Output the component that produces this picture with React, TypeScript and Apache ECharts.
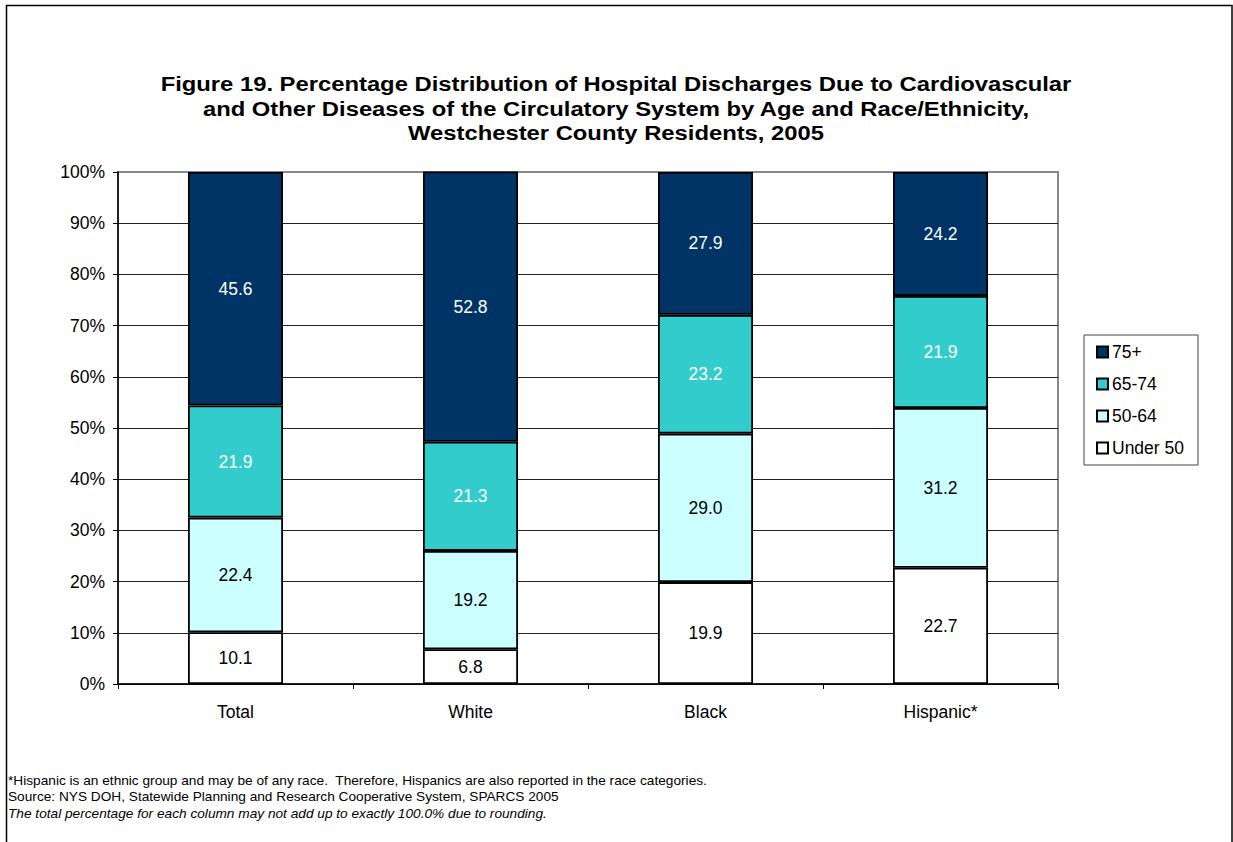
import React, { useEffect, useRef } from "react";
import * as echarts from "echarts";

const categories = ["Total", "White", "Black", "Hispanic*"];
const seriesNames = ["Under 50", "50-64", "65-74", "75+"];
const under50 = [10.1, 6.8, 19.9, 22.7];
const age50to64 = [22.4, 19.2, 29.0, 31.2];
const age65to74 = [21.9, 21.3, 23.2, 21.9];
const age75plus = [45.6, 52.8, 27.9, 24.2];
const seriesColors = ["#FFFFFF", "#CCFFFF", "#33CCCC", "#003366"];
const labelColors = ["#000000", "#000000", "#FFFFFF", "#FFFFFF"];
const legendOrder = ["75+", "65-74", "50-64", "Under 50"];
const titleText =
  "Figure 19. Percentage Distribution of Hospital Discharges Due to Cardiovascular\nand Other Diseases of the Circulatory System by Age and Race/Ethnicity,\nWestchester County Residents, 2005";
const footnotes = [
  "*Hispanic is an ethnic group and may be of any race.  Therefore, Hispanics are also reported in the race categories.",
  "Source: NYS DOH, Statewide Planning and Research Cooperative System, SPARCS 2005",
  "The total percentage for each column may not add up to exactly 100.0% due to rounding.",
];

const FONT = "'Liberation Sans', Arial, sans-serif";

export default function App() {
  const ref = useRef<HTMLDivElement>(null);
  useEffect(() => {
    if (!ref.current) return;
    const chart = echarts.init(ref.current, null, { renderer: "svg" });
    const dataSets = [under50, age50to64, age65to74, age75plus];
    const gridColors = [
      "#222", "#222", "#222", "#222", "#222", "#222", "#222", "#222", "#222", "#222", "#888",
    ];
    chart.setOption({
      animation: false,
      backgroundColor: "#ffffff",
      textStyle: { fontFamily: FONT },
      legend: {
        orient: "vertical",
        left: 1084,
        top: 335,
        data: legendOrder,
        icon: "rect",
        itemWidth: 11,
        itemHeight: 11,
        itemGap: 14,
        padding: [8, 14, 8, 12],
        borderColor: "#444",
        borderWidth: 1,
        textStyle: { fontFamily: FONT, fontSize: 17.5, color: "#000", padding: [0, 0, 0, -1] },
      },
      grid: {
        left: 118,
        right: 175,
        top: 172,
        bottom: 158,
        show: true,
        borderColor: "#888",
        borderWidth: 2,
        backgroundColor: "#fff",
      },
      xAxis: {
        type: "category",
        data: categories,
        axisLine: { lineStyle: { color: "#000", width: 1.5 } },
        axisTick: { show: true, length: 5, lineStyle: { color: "#000" } },
        axisLabel: { color: "#000", fontSize: 17.5, fontFamily: FONT, margin: 19 },
      },
      yAxis: {
        type: "value",
        min: 0,
        max: 100,
        interval: 10,
        axisLine: { show: true, lineStyle: { color: "#000", width: 1.5 } },
        axisTick: { show: true, length: 5, lineStyle: { color: "#000" } },
        axisLabel: {
          color: "#000",
          fontSize: 17.5,
          fontFamily: FONT,
          margin: 13,
          formatter: "{value}%",
        },
        splitLine: { show: true, lineStyle: { color: gridColors, width: 1 } },
      },
      series: seriesNames.map((name, i) => ({
        name,
        type: "bar",
        stack: "total",
        barWidth: 95,
        data: dataSets[i],
        itemStyle: { color: seriesColors[i], borderColor: "#000", borderWidth: 1.8 },
        label: {
          show: true,
          position: "inside",
          color: labelColors[i],
          fontSize: 17.5,
          fontFamily: FONT,
          formatter: (p: any) => Number(p.value).toFixed(1),
        },
      })),
      graphic: [
        {
          type: "rect",
          shape: { x: 6.5, y: 5.5, width: 1225.5, height: 900 },
          style: { fill: "none", stroke: "#000", lineWidth: 1.5 },
          silent: true,
        },
        {
          type: "text",
          x: 616,
          y: 72,
          scaleX: 1.19,
          style: {
            text: titleText,
            align: "center",
            verticalAlign: "top",
            fontFamily: FONT,
            fontSize: 20,
            fontWeight: "bold",
            lineHeight: 24.5,
            fill: "#000",
          },
        },
        ...footnotes.map((t, i) => ({
          type: "text",
          x: 8,
          y: 774.5 + i * 16.5,
          scaleX: 1.14,
          style: {
            text: t,
            fontFamily: FONT,
            fontSize: 12,
            fontStyle: i === 2 ? "italic" : "normal",
            verticalAlign: "top",
            fill: "#000",
          },
        })),
      ],
    });
    return () => chart.dispose();
  }, []);
  return (
    <div
      ref={ref}
      style={{ position: "fixed", left: 0, top: 0, width: 1233, height: 842, background: "#fff" }}
    />
  );
}
